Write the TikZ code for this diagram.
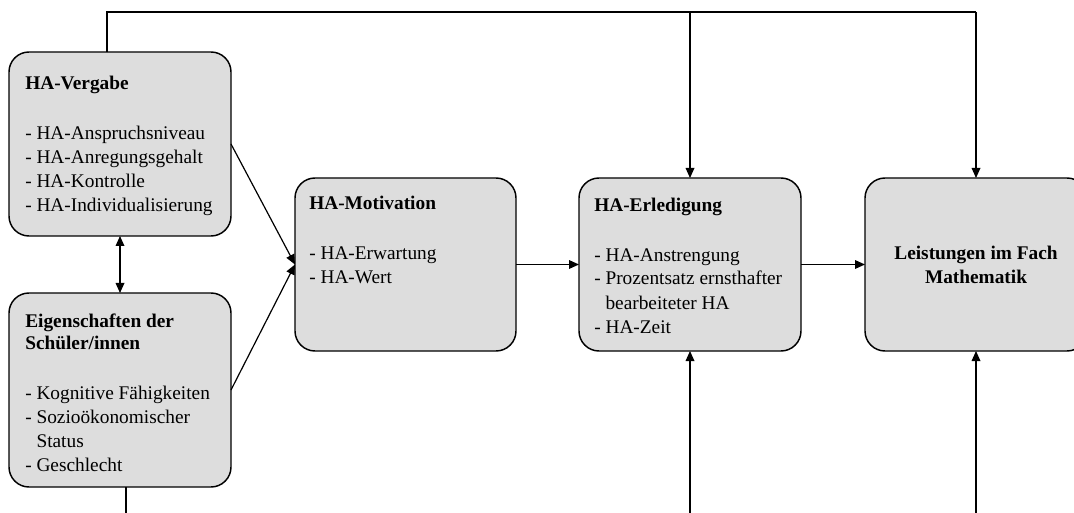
\documentclass[tikz,border=0pt]{standalone}
\usepackage{fontspec}
\setmainfont{Liberation Serif}
\usetikzlibrary{arrows.meta,calc}

\tikzset{
  box/.style={draw=black, line width=1.1pt, fill=boxgray, rounded corners=15pt,
    rectangle, inner sep=0pt, outer sep=0pt, anchor=north west},
  % multi-line texts: the base anchor sits on the last line
  txt/.style={inner sep=0pt, align=left, anchor=base west,
    font=\fontsize{14.5pt}{18pt}\selectfont},
  tip/.style={Triangle[length=7.5pt,width=6.5pt]},
  link/.style={line width=0.9pt, draw=black},
  arr/.style={link, -{Triangle[length=7.5pt,width=6.5pt]}},
  darr/.style={link, {Triangle[length=7.5pt,width=6.5pt]}-{Triangle[length=7.5pt,width=6.5pt]}},
}
\definecolor{boxgray}{RGB}{221,221,221}
\newcommand{\ind}{\hphantom{- }}

\begin{document}
\begin{tikzpicture}[x=0.75pt, y=-0.75pt]
  \clip (0,0) rectangle (1074,513);

  % boxes
  \node[box, minimum width=222*0.75pt, minimum height=184*0.75pt] (verg) at (9,52) {};
  \node[box, minimum width=222*0.75pt, minimum height=194*0.75pt] (eig) at (9,293) {};
  \node[box, minimum width=221*0.75pt, minimum height=173*0.75pt] (mot) at (295,178) {};
  \node[box, minimum width=222*0.75pt, minimum height=173*0.75pt] (erl) at (579,178) {};
  \node[box, minimum width=222*0.75pt, minimum height=173*0.75pt] (leist) at (865,178) {};

  % box texts
  \node[txt] (vergT) at (25,212) {\textbf{HA-Vergabe}\\[19.5pt]
    - HA-Anspruchsniveau\\
    - HA-Anregungsgehalt\\
    - HA-Kontrolle\\
    - HA-Individualisierung};
  \node[txt] (eigT) at (25,471) {\textbf{Eigenschaften der}\\[-1.5pt]
    \textbf{Schüler/innen}\\[19.5pt]
    - Kognitive Fähigkeiten\\
    - Sozioökonomischer\\
    \ind Status\\
    - Geschlecht};
  \node[txt] (motT) at (309,284) {\textbf{HA-Motivation}\\[19.5pt]
    - HA-Erwartung\\
    - HA-Wert};
  \node[txt] (erlT) at (594,333) {\textbf{HA-Erledigung}\\[19.5pt]
    - HA-Anstrengung\\
    - Prozentsatz ernsthafter\\
    \ind bearbeiteter HA\\
    - HA-Zeit};
  \node[txt, align=center, anchor=base] (leistT) at (976,284)
    {\textbf{Leistungen im Fach}\\ \textbf{Mathematik}};

  % free ends of connectors
  \coordinate (tl) at (107,12);
  \coordinate (bot) at (0,515);
  \coordinate (eb) at (126,515);

  % top line feeding the two right-hand boxes
  \draw[link] (verg.north -| tl) -- (tl) -- (tl -| leist.north);
  \draw[arr] (tl -| erl.north) -- (erl.north);
  \draw[arr] (tl -| leist.north) -- (leist.north);

  % connectors between boxes
  \draw[darr] (verg.south) -- (eig.north);
  \draw[arr] (verg.east) -- (mot.west);
  \draw[arr] (eig.east) -- (mot.west);
  \draw[arr] (mot.east) -- (erl.west);
  \draw[arr] (erl.east) -- (leist.west);

  % lines from below
  \draw[link] (eig.south -| eb) -- (eb);
  \draw[arr] (bot -| erl.south) -- (erl.south);
  \draw[arr] (bot -| leist.south) -- (leist.south);
\end{tikzpicture}
\end{document}
